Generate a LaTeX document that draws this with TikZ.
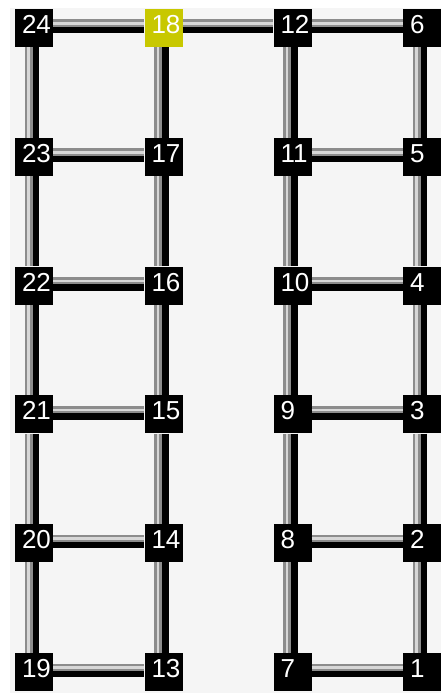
\documentclass[tikz,border=0pt]{standalone}
\usepackage{fontspec}
\setmainfont{Liberation Sans}
\definecolor{bgc}{RGB}{245,245,245}
\definecolor{railgrey}{RGB}{140,140,140}
\definecolor{raillight}{RGB}{215,215,215}
\definecolor{selyel}{RGB}{200,200,0}
\begin{document}
\begin{tikzpicture}[x=1pt,y=-1pt,
  box/.style={rectangle, fill=black, minimum width=38pt, minimum height=38pt,
    inner sep=0pt, text=white, text width=24pt, align=left,
    text height=19pt, text depth=8pt, font=\fontsize{26}{26}\selectfont},
  sel/.style={box, fill=selyel},
  railo/.style={draw=railgrey, line width=8pt},
  raili/.style={draw=raillight, line width=2.5pt},
  railb/.style={draw=black, line width=6.5pt}]
\useasboundingbox (0,0) rectangle (441,693);
\fill[white] (0,0) rectangle (441,693);
\fill[bgc] (10,8) rectangle (441,693);
% nodes
\foreach \i/\x in {0/422,1/292.5,2/163.5,3/34}{
  \foreach \r/\y in {0/672,1/543.2,2/414.4,3/285.6,4/156.8,5/28}{
    \pgfmathtruncatemacro{\n}{6*\i+\r+1}
    \ifnum\n=18
      \node[sel] (n\n) at (\x,\y) {\n};
    \else
      \node[box] (n\n) at (\x,\y) {\n};
    \fi
  }
}
% vertical connectors
\foreach \a in {2,...,6,8,9,10,11,12,14,15,16,17,18,20,21,22,23,24}{
  \pgfmathtruncatemacro{\b}{\a-1}
  \draw[railo] ([xshift=-5.5pt]n\a.south) -- ([xshift=-5.5pt]n\b.north);
  \draw[raili] ([xshift=-5.5pt]n\a.south) -- ([xshift=-5.5pt]n\b.north);
  \draw[railb] ([xshift=2pt]n\a.south) -- ([xshift=2pt]n\b.north);
}
% horizontal connectors
\foreach \a/\b in {24/18,23/17,22/16,21/15,20/14,19/13,18/12,12/6,11/5,10/4,9/3,8/2,7/1}{
  \draw[railo] ([yshift=4.5pt]n\a.east) -- ([yshift=4.5pt]n\b.west);
  \draw[raili] ([yshift=4.5pt]n\a.east) -- ([yshift=4.5pt]n\b.west);
  \draw[railb] ([yshift=-2pt]n\a.east) -- ([yshift=-2pt]n\b.west);
}
\end{tikzpicture}
\end{document}
